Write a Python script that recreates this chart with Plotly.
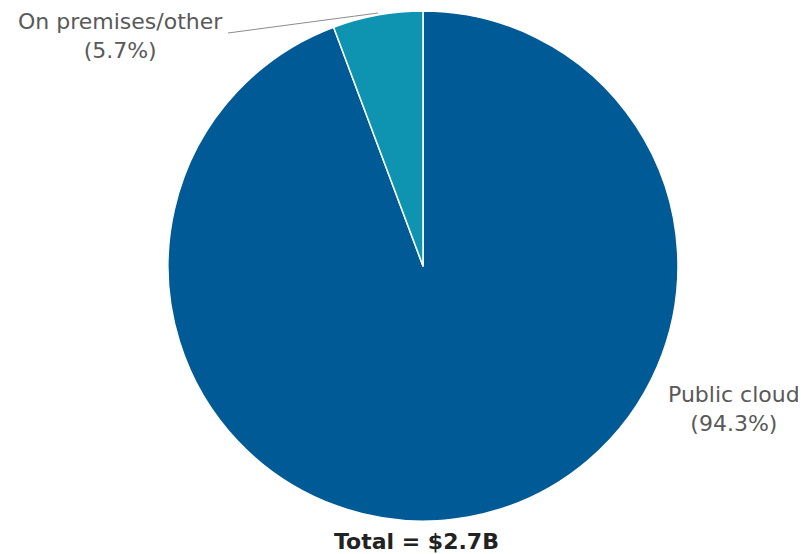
import plotly.graph_objects as go

labels = ["Public cloud", "On premises/other"]
values = [94.3, 5.7]
colors = ["#005A96", "#0E93B0"]
total_label = "Total = $2.7B"

W, H = 806, 554
OFF = 8  # page body margin
cx, cy, r = 423 - OFF, 266 - OFF, 255

fig = go.Figure(go.Pie(
    labels=labels, values=values, sort=False, direction="clockwise", rotation=0,
    marker=dict(colors=colors, line=dict(color="white", width=1.5)),
    textinfo="none", hoverinfo="label+percent", showlegend=False,
    domain=dict(x=[(cx - r) / W, (cx + r) / W], y=[1 - (cy + r) / H, 1 - (cy - r) / H]),
))

font = dict(family="DejaVu Sans", size=22, color="#595959")

def px(x, y):
    return (x - OFF) / W, 1 - (y - OFF) / H

anns = [
    (121, 36, f"{labels[1]}<br>({values[1]}%)"),
    (734, 409, f"{labels[0]}<br>({values[0]}%)"),
]
for x, y, t in anns:
    ax, ay = px(x, y)
    fig.add_annotation(x=ax, y=ay, xref="paper", yref="paper", text=t, showarrow=False,
                       font=font, align="center", xanchor="center", yanchor="middle")

tx, ty = px(417, 541)
fig.add_annotation(x=tx, y=ty, xref="paper", yref="paper", text=f"<b>{total_label}</b>",
                   showarrow=False, xanchor="center", yanchor="middle",
                   font=dict(family="DejaVu Sans", size=22, color="#222222"))

x0, y0 = px(228, 33)
x1, y1 = px(378, 13)
fig.add_shape(type="line", xref="paper", yref="paper", x0=x0, y0=y0, x1=x1, y1=y1,
              line=dict(color="#8c8c8c", width=1))

fig.update_layout(width=W, height=H, margin=dict(l=0, r=0, t=0, b=0),
                  paper_bgcolor="white", plot_bgcolor="white")
fig.write_html("out.html")
